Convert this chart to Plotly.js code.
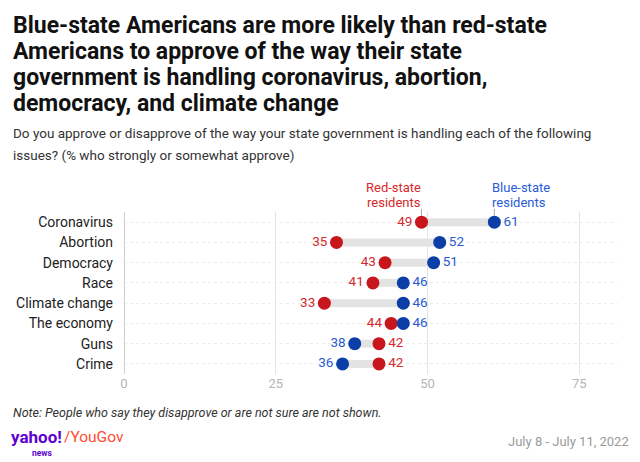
<!DOCTYPE html>
<html>
<head>
<meta charset="utf-8">
<script src="https://cdn.plot.ly/plotly-3.0.1.min.js"></script>
<style>
html,body{margin:0;padding:0;background:#fff;}
#chart{width:640px;height:462px;}
</style>
</head>
<body>
<div id="chart"></div>
<script>
// ---- data ----
const issues = ["Coronavirus","Abortion","Democracy","Race","Climate change","The economy","Guns","Crime"];
const redState = [49,35,43,41,33,44,42,42];
const blueState = [61,52,51,46,46,46,38,36];
const xTicks = [0,25,50,75];
const titleLines = [
  "Blue-state Americans are more likely than red-state",
  "Americans to approve of the way their state",
  "government is handling coronavirus, abortion,",
  "democracy, and climate change"
];
const subtitleLines = [
  "Do you approve or disapprove of the way your state government is handling each of the following",
  "issues? (% who strongly or somewhat approve)"
];
const noteText = "Note: People who say they disapprove or are not sure are not shown.";
const dateText = "July 8 - July 11, 2022";

// ---- layout geometry ----
const W = 640, H = 462;
const M = {l:124, r:23, t:212, b:88};
const pw = W - M.l - M.r, ph = H - M.t - M.b;
const px = p => (p - M.l) / pw;
const py = p => (H - M.b - p) / ph;

const RED = "#c8161d", BLUE = "#0c3ea8";
const RED_T = "#d42a2a", BLUE_T = "#2a5bd6";
const FONT = "Roboto, 'Open Sans', sans-serif";

// connector segments
const segX = [], segY = [];
issues.forEach((c,i) => { segX.push(redState[i], blueState[i], null); segY.push(c, c, null); });

const redPos = redState.map((v,i) => v <= blueState[i] ? "middle left" : "middle right");
const bluePos = blueState.map((v,i) => v < redState[i] ? "middle left" : "middle right");

const traces = [
  {type:"scatter", mode:"lines", x:segX, y:segY, line:{color:"#e3e3e3", width:8}, hoverinfo:"skip", showlegend:false},
  {type:"scatter", mode:"markers+text", name:"Red-state residents", x:redState, y:issues,
   text:redState.map(String), textposition:redPos, textfont:{family:FONT, size:13.5, color:RED_T},
   marker:{color:RED, size:13}, cliponaxis:false, showlegend:false},
  {type:"scatter", mode:"markers+text", name:"Blue-state residents", x:blueState, y:issues,
   text:blueState.map(String), textposition:bluePos, textfont:{family:FONT, size:13.5, color:BLUE_T},
   marker:{color:BLUE, size:13}, cliponaxis:false, showlegend:false}
];

const ann = [];
titleLines.forEach((t,i) => ann.push({xref:"paper", yref:"paper", x:px(11), y:py(25 + i*26.3), xanchor:"left", yanchor:"middle",
  text:t, showarrow:false, font:{family:FONT, size:23, color:"#111", weight:700}}));
subtitleLines.forEach((t,i) => ann.push({xref:"paper", yref:"paper", x:px(11), y:py(133 + i*22), xanchor:"left", yanchor:"middle",
  text:t, showarrow:false, font:{family:FONT, size:13.5, color:"#333"}}));
// series labels
[["Red-state", 187], ["residents", 202]].forEach(([t,y]) => ann.push({xref:"x", yref:"paper", x:redState[0], y:py(y),
  xanchor:"right", yanchor:"middle", text:t, showarrow:false, borderpad:0, font:{family:FONT, size:13, color:RED_T}}));
[["Blue-state", 187], ["residents", 202]].forEach(([t,y]) => ann.push({xref:"x", yref:"paper", x:blueState[0], y:py(y),
  xanchor:"left", yanchor:"middle", text:t, showarrow:false, borderpad:0, xshift:-3, font:{family:FONT, size:13, color:BLUE_T}}));
// note, date
ann.push({xref:"paper", yref:"paper", x:px(11), y:py(412), xanchor:"left", yanchor:"middle", text:"<i>"+noteText+"</i>",
  showarrow:false, font:{family:FONT, size:12.5, color:"#333"}});
ann.push({xref:"paper", yref:"paper", x:px(631), y:py(441), xanchor:"right", yanchor:"middle", text:dateText,
  showarrow:false, font:{family:FONT, size:13, color:"#9a9a9a"}});
// logo
ann.push({xref:"paper", yref:"paper", x:px(10), y:py(437), xanchor:"left", yanchor:"middle", text:"<b>yahoo!</b>",
  showarrow:false, borderpad:0, font:{family:FONT, size:17, color:"#6001d2"}});
ann.push({xref:"paper", yref:"paper", x:px(63), y:py(437), xanchor:"left", yanchor:"middle", text:"/YouGov",
  showarrow:false, borderpad:0, font:{family:FONT, size:15.5, color:"#ff4b33"}});
ann.push({xref:"paper", yref:"paper", x:px(31), y:py(453), xanchor:"left", yanchor:"middle", text:"<b>news</b>",
  showarrow:false, borderpad:0, font:{family:FONT, size:8.5, color:"#6001d2"}});

const shapes = [
  {type:"line", xref:"x", yref:"paper", x0:redState[0], x1:redState[0], y0:py(209), y1:py(216), line:{color:"#aaa", width:1}},
  {type:"line", xref:"x", yref:"paper", x0:blueState[0], x1:blueState[0], y0:py(209), y1:py(216), line:{color:"#aaa", width:1}}
];

const layout = {
  width:W, height:H, margin:M, paper_bgcolor:"#fff", plot_bgcolor:"#fff",
  font:{family:FONT},
  xaxis:{range:[0,81.2], tickvals:xTicks, ticktext:xTicks.map(String), showgrid:true, gridcolor:"#e4e4e4", gridwidth:1,
    zeroline:true, zerolinecolor:"#cfcfcf", zerolinewidth:1, showline:false, ticks:"",
    tickfont:{family:FONT, size:13, color:"#b5b5b5"}, fixedrange:true},
  yaxis:{type:"category", categoryarray:issues, range:[7.5,-0.5], showgrid:true, gridcolor:"#ececec", griddash:"dot", gridwidth:1,
    zeroline:false, showline:false, ticks:"", ticklabelstandoff:10, tickfont:{family:FONT, size:14, color:"#222"}, fixedrange:true},
  annotations:ann, shapes:shapes, showlegend:false
};

Plotly.newPlot("chart", traces, layout, {displayModeBar:false, staticPlot:true});
</script>
</body>
</html>
